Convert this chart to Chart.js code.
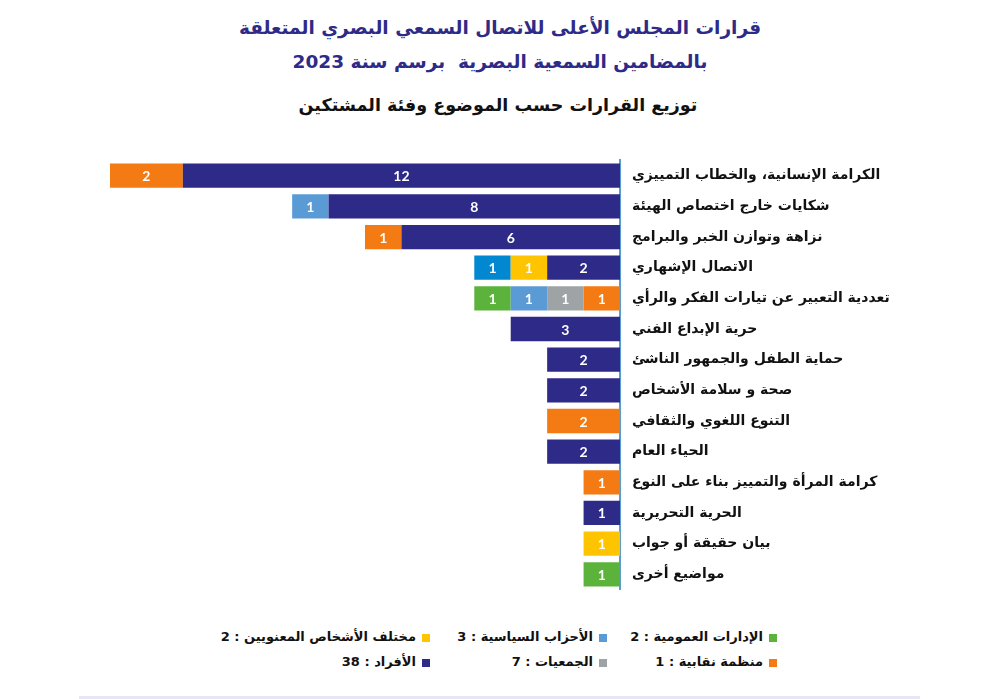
<!DOCTYPE html>
<html lang="ar">
<head>
<meta charset="utf-8">
<script src="https://cdn.jsdelivr.net/npm/chart.js@4.4.1/dist/chart.umd.min.js"></script>
<style>
  html, body { margin: 0; padding: 0; background: #fff; }
  body { width: 1007px; height: 699px; position: relative; overflow: hidden; font-family: "DejaVu Sans", sans-serif; }
  .title { position: absolute; left: 0; width: 1000px; text-align: center; direction: rtl; color: #2e2a87; font-size: 18.5px; font-weight: bold; line-height: 34px; top: 11px; }
  .subtitle { position: absolute; left: 0; width: 996px; text-align: center; direction: rtl; color: #111; font-size: 17.5px; font-weight: bold; top: 95px; }
  #wrap { position: absolute; left: 0; top: 140px; width: 1007px; height: 470px; }
  .lg { position: absolute; direction: rtl; font-size: 13px; font-weight: bold; color: #111; white-space: nowrap; line-height: 18px; }
  .lg span.box { display: inline-block; width: 8px; height: 8px; margin-left: 6px; vertical-align: middle; }
  .foot { position: absolute; left: 79px; top: 696px; width: 841px; height: 3px; background: #e8e6f4; }
</style>
</head>
<body>
<div class="title">قرارات المجلس الأعلى للاتصال السمعي البصري المتعلقة<br>بالمضامين السمعية البصرية&nbsp; برسم سنة 2023</div>
<div class="subtitle">توزيع القرارات حسب الموضوع وفئة المشتكين</div>
<div id="wrap"><canvas id="chart"></canvas></div>
<div id="legend"></div>
<div class="foot"></div>
<script>
// categories (top to bottom)
const topics = [
  'الكرامة الإنسانية، والخطاب التمييزي',
  'شكايات خارج اختصاص الهيئة',
  'نزاهة وتوازن الخبر والبرامج',
  'الاتصال الإشهاري',
  'تعددية التعبير عن تيارات الفكر والرأي',
  'حرية الإبداع الفني',
  'حماية الطفل والجمهور الناشئ',
  'صحة و سلامة الأشخاص',
  'التنوع اللغوي والثقافي',
  'الحياء العام',
  'كرامة المرأة والتمييز بناء على النوع',
  'الحرية التحريرية',
  'بيان حقيقة أو جواب',
  'مواضيع أخرى'
];

// series values, stacked outward from the axis
const afrad     = [12, 8, 6, 2, null, 3, 2, 2, null, 2, null, 1, null, null];
const niqabiya  = [2, null, 1, null, 1, null, null, null, 2, null, 1, null, null, null];
const ashkhas   = [null, null, null, 1, null, null, null, null, null, null, null, null, 1, null];
const jamiyat   = [null, null, null, null, 1, null, null, null, null, null, null, null, null, null];
const ahzab     = [null, 1, null, null, 1, null, null, null, null, null, null, null, null, null];
const other     = [null, null, null, 1, null, null, null, null, null, null, null, null, null, null];
const idarat    = [null, null, null, null, 1, null, null, null, null, null, null, null, null, 1];

// legend entries (right to left, two rows)
const legendNames  = ['الإدارات العمومية', 'الأحزاب السياسية', 'مختلف الأشخاص المعنويين', 'منظمة نقابية', 'الجمعيات', 'الأفراد'];
const legendCounts = [2, 3, 2, 1, 7, 38];
const legendColors = ['#5bb33b', '#5b9bd5', '#ffc400', '#f47a13', '#9ea3a6', '#2e2a87'];

const navy = '#2e2a87';

// white numbers in the middle of each segment
const segmentLabels = {
  id: 'segmentLabels',
  afterDatasetsDraw(chart) {
    const ctx = chart.ctx;
    ctx.save();
    ctx.font = 'bold 14px Lato, "DejaVu Sans", sans-serif';
    ctx.fillStyle = '#fff';
    ctx.textAlign = 'center';
    ctx.textBaseline = 'middle';
    chart.data.datasets.forEach((ds, i) => {
      chart.getDatasetMeta(i).data.forEach((bar, j) => {
        const v = ds.data[j];
        if (!v) return;
        ctx.fillText(v, (bar.x + bar.base) / 2, bar.y + 1);
      });
    });
    ctx.restore();
  }
};

const mk = (label, data, color) => ({
  label, data, backgroundColor: color, borderWidth: 0,
  barPercentage: 0.88, categoryPercentage: 0.9
});

new Chart(document.getElementById('chart'), {
  type: 'bar',
  data: {
    labels: topics,
    datasets: [
      mk('الأفراد', afrad, navy),
      mk('منظمة نقابية', niqabiya, '#f47a13'),
      mk('مختلف الأشخاص المعنويين', ashkhas, '#ffc400'),
      mk('الجمعيات', jamiyat, '#9ea3a6'),
      mk('الأحزاب السياسية', ahzab, '#5b9bd5'),
      mk('أخرى', other, '#0288d1'),
      mk('الإدارات العمومية', idarat, '#5bb33b')
    ]
  },
  options: {
    indexAxis: 'y',
    responsive: true,
    maintainAspectRatio: false,
    animation: false,
    layout: { padding: { left: 110, top: 18, bottom: 15 } },
    plugins: {
      legend: { display: false },
      tooltip: { enabled: false }
    },
    scales: {
      x: {
        stacked: true,
        reverse: true,
        min: 0,
        max: 14,
        display: false
      },
      y: {
        stacked: true,
        position: 'right',
        grid: { display: false, drawTicks: false },
        border: { display: true, color: '#5b9bd5', width: 2 },
        ticks: {
          padding: 12,
          color: '#111',
          font: { family: '"DejaVu Sans", sans-serif', size: 14, weight: 'bold' }
        },
        afterFit(scale) { scale.width = 387; }
      }
    }
  },
  plugins: [segmentLabels]
});

// legend, three columns aligned on their right edges
const colRight = [230, 400, 577];
const rowTop = [628, 653];
const legend = document.getElementById('legend');
legendNames.forEach((name, i) => {
  const d = document.createElement('div');
  d.className = 'lg';
  d.style.right = colRight[i % 3] + 'px';
  d.style.top = rowTop[Math.floor(i / 3)] + 'px';
  d.innerHTML = '<span class="box" style="background:' + legendColors[i] + '"></span>' + name + ' : ' + legendCounts[i];
  legend.appendChild(d);
});
</script>
</body>
</html>
